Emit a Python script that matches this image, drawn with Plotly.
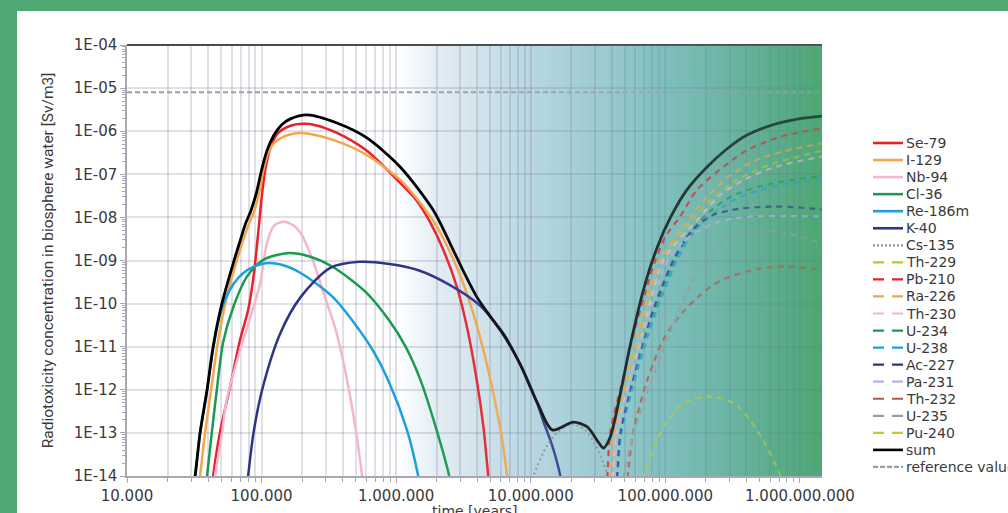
import numpy as np
import plotly.graph_objects as go

# ---------------- data (log10 time [years], log10 concentration [Sv/m3]) ----------------
se79_lt = [4.63, 4.64, 4.69, 4.766, 4.84, 4.90, 4.94, 4.975, 5.0, 5.03, 5.07, 5.12, 5.21, 5.31, 5.40, 5.56, 5.78, 6.03, 6.15, 6.25, 6.35, 6.45, 6.53, 6.60, 6.65, 6.684, 6.695]
se79_lc = [-14.3, -14.0, -13.0, -11.93, -10.84, -10.15, -9.38, -8.36, -7.55, -6.85, -6.35, -6.05, -5.88, -5.83, -5.86, -6.04, -6.45, -7.2, -7.6, -8.1, -8.75, -9.6, -10.6, -11.8, -12.9, -14.0, -14.3]

i129_lt = [4.53, 4.543, 4.58, 4.625, 4.67, 4.73, 4.81, 4.90, 4.94, 4.98, 5.01, 5.05, 5.085, 5.16, 5.29, 5.53, 5.78, 6.03, 6.15, 6.30, 6.45, 6.55, 6.65, 6.73, 6.785, 6.825, 6.84]
i129_lc = [-14.3, -14.0, -13.0, -12.0, -11.0, -10.0, -9.06, -8.2, -7.9, -7.45, -6.95, -6.5, -6.3, -6.13, -6.04, -6.2, -6.55, -7.13, -7.55, -8.2, -9.15, -10.0, -11.1, -12.2, -13.1, -14.0, -14.4]

nb94_lt = [4.645, 4.654, 4.706, 4.74, 4.84, 4.94, 4.99, 5.04, 5.09, 5.16, 5.23, 5.29, 5.38, 5.46, 5.55, 5.62, 5.70, 5.747, 5.76]
nb94_lc = [-14.3, -14.0, -13.0, -12.24, -11.08, -10.08, -9.52, -8.6, -8.2, -8.1, -8.17, -8.36, -8.99, -9.75, -10.6, -11.54, -12.93, -14.0, -14.3]

cl36_lt = [4.585, 4.595, 4.63, 4.67, 4.714, 4.79, 4.89, 5.01, 5.19, 5.35, 5.53, 5.78, 5.95, 6.07, 6.18, 6.30, 6.394, 6.41]
cl36_lc = [-14.3, -14.0, -13.0, -11.93, -10.9, -10.08, -9.38, -8.99, -8.83, -8.9, -9.15, -9.75, -10.4, -11.0, -11.77, -12.93, -14.0, -14.3]

re186m_lt = [4.49, 4.506, 4.543, 4.595, 4.64, 4.68, 4.73, 4.79, 4.86, 4.94, 5.04, 5.15, 5.29, 5.53, 5.70, 5.83, 5.94, 6.08, 6.164, 6.18]
re186m_lc = [-14.3, -14.0, -13.0, -12.0, -11.05, -10.4, -9.9, -9.55, -9.3, -9.15, -9.06, -9.1, -9.29, -9.85, -10.5, -11.1, -11.77, -12.93, -14.0, -14.3]

k40_lt = [4.89, 4.90, 4.94, 5.01, 5.14, 5.29, 5.51, 5.73, 5.95, 6.16, 6.40, 6.625, 6.773, 6.92, 7.05, 7.09, 7.16, 7.22, 7.235]
k40_lc = [-14.3, -14.0, -13.0, -11.93, -10.68, -9.85, -9.17, -9.03, -9.08, -9.22, -9.57, -10.05, -10.62, -11.4, -12.33, -12.7, -13.3, -14.0, -14.3]

cs135_lt = [7.0, 7.02, 7.12, 7.2, 7.3, 7.4, 7.48, 7.54, 7.57, 7.585]
cs135_lc = [-14.3, -14.0, -13.3, -12.98, -12.8, -12.92, -13.28, -13.7, -14.0, -14.3]

th229_lt = [7.595, 7.61, 7.635, 7.815, 7.975, 8.22, 8.35, 8.55, 8.8, 9.0, 9.165]
th229_lc = [-14.3, -14.0, -13.0, -10.69, -8.99, -7.98, -7.55, -7.1, -6.75, -6.58, -6.45]

pb210_lt = [7.555, 7.569, 7.59, 7.68, 7.765, 7.85, 7.926, 8.01, 8.11, 8.236, 8.434, 8.607, 8.855, 9.165]
pb210_lc = [-14.3, -14.0, -13.0, -11.8, -10.69, -9.75, -8.99, -8.4, -7.98, -7.36, -6.82, -6.44, -6.13, -5.93]

ra226_lt = [7.58, 7.595, 7.62, 7.80, 7.963, 8.19, 8.3, 8.45, 8.65, 8.9, 9.165]
ra226_lc = [-14.3, -14.0, -13.0, -10.69, -8.99, -7.98, -7.55, -7.1, -6.7, -6.45, -6.28]

th230_lt = [7.60, 7.61, 7.64, 7.83, 7.988, 8.26, 8.4, 8.6, 8.85, 9.165]
th230_lc = [-14.3, -14.0, -13.0, -10.69, -8.99, -7.98, -7.5, -7.1, -6.8, -6.59]

u234_lt = [7.62, 7.635, 7.665, 7.86, 8.07, 8.2, 8.335, 8.5, 8.7, 8.95, 9.165]
u234_lc = [-14.3, -14.0, -13.0, -10.69, -8.99, -8.3, -7.85, -7.5, -7.28, -7.13, -7.05]

u238_lt = [7.63, 7.645, 7.675, 7.876, 8.087, 8.22, 8.36, 8.52, 8.72, 8.95, 9.165]
u238_lc = [-14.3, -14.0, -13.0, -10.69, -8.99, -8.3, -7.9, -7.58, -7.35, -7.2, -7.12]

ac227_lt = [7.625, 7.64, 7.665, 7.85, 8.06, 8.2, 8.35, 8.55, 8.8, 9.0, 9.165]
ac227_lc = [-14.3, -14.0, -13.0, -10.69, -8.99, -8.3, -7.95, -7.8, -7.75, -7.77, -7.82]

pa231_lt = [7.61, 7.625, 7.65, 7.84, 8.02, 8.2, 8.4, 8.6, 8.9, 9.165]
pa231_lc = [-14.3, -14.0, -13.0, -10.69, -8.99, -8.4, -8.1, -7.99, -7.97, -7.98]

th232_lt = [7.70, 7.72, 7.76, 7.866, 8.0, 8.13, 8.26, 8.36, 8.459, 8.68, 8.905, 9.165]
th232_lc = [-14.3, -14.0, -13.0, -11.77, -10.75, -10.2, -9.8, -9.56, -9.4, -9.2, -9.14, -9.22]

u235_lt = [7.675, 7.69, 7.765, 7.889, 8.013, 8.137, 8.285, 8.459, 8.68, 8.905, 9.165]
u235_lc = [-14.3, -14.0, -13.0, -11.85, -10.84, -9.92, -8.99, -8.52, -8.29, -8.37, -8.6]

pu240_lt = [7.82, 7.84, 7.988, 8.137, 8.31, 8.508, 8.68, 8.855, 8.87]
pu240_lc = [-14.3, -14.0, -12.85, -12.31, -12.16, -12.31, -12.93, -14.0, -14.3]

sum_lt = [4.49, 4.506, 4.543, 4.595, 4.64, 4.706, 4.79, 4.84, 4.88, 4.92, 4.96, 5.0, 5.04, 5.09, 5.15, 5.21, 5.34, 5.56, 5.78, 6.03, 6.275, 6.40, 6.5, 6.6, 6.7, 6.8, 6.92, 7.05, 7.16, 7.316, 7.42, 7.49, 7.54, 7.59, 7.665, 7.74, 7.84, 7.94, 8.04, 8.16, 8.31, 8.45, 8.6, 8.8, 9.0, 9.165]
sum_lc = [-14.3, -14.0, -13.0, -12.0, -11.0, -9.99, -9.06, -8.55, -8.15, -7.85, -7.45, -6.9, -6.45, -6.1, -5.85, -5.72, -5.62, -5.81, -6.15, -6.83, -7.83, -8.6, -9.25, -9.85, -10.3, -10.72, -11.4, -12.31, -12.93, -12.75, -12.86, -13.16, -13.35, -13.1, -12.1, -10.95, -9.65, -8.69, -7.99, -7.36, -6.83, -6.43, -6.1, -5.85, -5.71, -5.65]

reference_value = 8e-6

x_tick_vals = [1e4, 1e5, 1e6, 1e7, 1e8, 1e9]
x_tick_text = ["10.000", "100.000", "1.000.000", "10.000.000", "100.000.000", "1.000.000.000"]
y_tick_vals = [1e-14, 1e-13, 1e-12, 1e-11, 1e-10, 1e-9, 1e-8, 1e-7, 1e-6, 1e-5, 1e-4]
y_tick_text = ["1E-14", "1E-13", "1E-12", "1E-11", "1E-10", "1E-09", "1E-08", "1E-07", "1E-06", "1E-05", "1E-04"]
x_title = "time [years]"
y_title = "Radiotoxicity concentration in biosphere water [Sv/m3]"

X_LO, X_HI = 4.0, 9.164
Y_LO, Y_HI = -14.0, -4.0

FONT = "DejaVu Sans, sans-serif"
TITLE_FONT = "Roboto, sans-serif"
TXT = "#3a3a3a"
GREEN = "#4fa874"
DASH = "6px,5px"

series = [
    ("Se-79", se79_lt, se79_lc, "#e8212b", "solid", 2.5),
    ("I-129", i129_lt, i129_lc, "#f5a54a", "solid", 2.5),
    ("Nb-94", nb94_lt, nb94_lc, "#f4b6cf", "solid", 2.5),
    ("Cl-36", cl36_lt, cl36_lc, "#1a9a50", "solid", 2.5),
    ("Re-186m", re186m_lt, re186m_lc, "#1ba0dc", "solid", 2.5),
    ("K-40", k40_lt, k40_lc, "#2e3386", "solid", 2.5),
    ("Cs-135", cs135_lt, cs135_lc, "#8e8e96", "2px,3px", 2),
    ("Th-229", th229_lt, th229_lc, "#b3c934", DASH, 2.2),
    ("Pb-210", pb210_lt, pb210_lc, "#e8212b", DASH, 2.2),
    ("Ra-226", ra226_lt, ra226_lc, "#f5a54a", DASH, 2.2),
    ("Th-230", th230_lt, th230_lc, "#f4b6cf", DASH, 2.2),
    ("U-234", u234_lt, u234_lc, "#1a9a50", DASH, 2.2),
    ("U-238", u238_lt, u238_lc, "#1ba0dc", DASH, 2.2),
    ("Ac-227", ac227_lt, ac227_lc, "#2e3386", DASH, 2.2),
    ("Pa-231", pa231_lt, pa231_lc, "#b4b4de", DASH, 2.2),
    ("Th-232", th232_lt, th232_lc, "#b5554a", DASH, 2.2),
    ("U-235", u235_lt, u235_lc, "#9a9aa0", DASH, 2.2),
    ("Pu-240", pu240_lt, pu240_lc, "#b8cc3c", DASH, 2.2),
    ("sum", sum_lt, sum_lc, "#000000", "solid", 2.8),
]
REF_STYLE = ("reference value", "#9aa0a8", "5px,2px", 2)

fig = go.Figure()
for name, lt, lc, color, dash, width in series:
    fig.add_trace(go.Scatter(
        x=10 ** np.array(lt), y=10 ** np.array(lc), name=name, mode="lines",
        line=dict(color=color, dash=dash, width=width, shape="spline", smoothing=0.8),
        hoverinfo="skip"))

fig.add_trace(go.Scatter(
    x=[10 ** X_LO, 10 ** X_HI], y=[reference_value, reference_value], name=REF_STYLE[0],
    mode="lines", line=dict(color=REF_STYLE[1], dash="5px,3px", width=2), hoverinfo="skip"))

# ---------------- geometry helpers ----------------
W, H = 1008, 513
ML, MR, MT, MB = 127, 186, 45, 37
pw, ph = W - ML - MR, H - MT - MB


def px2paper_x(px):
    return (px - ML) / pw


def py2paper_y(py):
    return (H - MB - py) / ph


def paper_x(lt):
    return (lt - X_LO) / (X_HI - X_LO)


# ---------------- background gradient (below) + fading overlay (above) ----------------
bg_lt = [6.0, 6.29, 6.625, 7.0, 7.46, 7.985, 8.47, 9.1, 9.2]
bg_r = [255, 228, 210, 185, 160, 128, 108, 80, 79]
bg_g = [255, 238, 228, 215, 205, 192, 180, 168, 168]
bg_b = [255, 244, 236, 225, 212, 190, 165, 120, 116]
ov_lt = [6.0, 6.6, 7.2, 8.0, 8.5, 9.2]
ov_a = [0.0, 0.07, 0.16, 0.28, 0.38, 0.48]

shapes = []
edges = np.linspace(5.9, X_HI, 140)
for i in range(len(edges) - 1):
    mid = 0.5 * (edges[i] + edges[i + 1])
    r = np.interp(mid, bg_lt, bg_r)
    g = np.interp(mid, bg_lt, bg_g)
    b = np.interp(mid, bg_lt, bg_b)
    a = np.interp(mid, ov_lt, ov_a)
    shapes.append(dict(type="rect", xref="paper", yref="paper", x0=paper_x(edges[i]), x1=1,
                       y0=0, y1=1, fillcolor=f"rgb({r:.0f},{g:.0f},{b:.0f})", line_width=0,
                       layer="below"))
    if a > 0.003:
        shapes.append(dict(type="rect", xref="paper", yref="paper", x0=paper_x(edges[i]),
                           x1=paper_x(edges[i + 1]), y0=0, y1=1,
                           fillcolor=f"rgba({r:.0f},{g:.0f},{b:.0f},{a:.3f})", line_width=0,
                           layer="above"))

# top border of plot area
shapes.append(dict(type="line", xref="paper", yref="paper", x0=0, x1=1, y0=1, y1=1,
                   line=dict(color="#111111", width=1.5), layer="between"))

# green frame (left and top strips)
shapes.append(dict(type="rect", xref="paper", yref="paper", x0=px2paper_x(-2), x1=px2paper_x(17),
                   y0=py2paper_y(H + 2), y1=py2paper_y(-2), fillcolor=GREEN, line_width=0, layer="above"))
shapes.append(dict(type="rect", xref="paper", yref="paper", x0=px2paper_x(-2), x1=px2paper_x(W + 2),
                   y0=py2paper_y(11), y1=py2paper_y(-2), fillcolor=GREEN, line_width=0, layer="above"))

# ---------------- legend (samples + real text labels, built from the series list) ----------------
annotations = []
legend_items = [(s[0], s[3], s[4], s[5]) for s in series] + [REF_STYLE]
LEG_TOP, LEG_STEP = 143, 17.05
for i, (name, color, dash, width) in enumerate(legend_items):
    ypx = LEG_TOP + i * LEG_STEP
    if dash == DASH:
        ldash = "11px,8px"
    elif dash.startswith("2px"):
        ldash = "2px,2px"
    else:
        ldash = dash
    shapes.append(dict(type="line", xref="paper", yref="paper",
                       x0=px2paper_x(873), x1=px2paper_x(903), y0=py2paper_y(ypx), y1=py2paper_y(ypx),
                       line=dict(color=color, dash=ldash, width=2.6 if width > 2.4 else 2.2),
                       layer="above"))
    annotations.append(dict(xref="paper", yref="paper", x=px2paper_x(904), y=py2paper_y(ypx),
                            xanchor="left", yanchor="middle", text=name, showarrow=False,
                            font=dict(family=FONT, size=14, color=TXT)))

# x-axis title (sits just under the tick labels, partly cut by the page edge as in the original)
annotations.append(dict(xref="paper", yref="paper", x=0.5, y=py2paper_y(511), xanchor="center",
                        yanchor="middle", text=x_title, showarrow=False,
                        font=dict(family=FONT, size=14, color=TXT)))

x_minor = [k * 10 ** d for d in range(4, 10) for k in range(2, 10)]
y_minor = [k * 10.0 ** d for d in range(-14, -4) for k in range(2, 10)]

GRID = "rgba(90,90,125,0.19)"
AXLINE = "#a8a8b2"

fig.update_layout(
    width=W, height=H,
    margin=dict(l=ML, r=MR, t=MT, b=MB, autoexpand=False),
    paper_bgcolor="white", plot_bgcolor="white",
    font=dict(family=FONT, size=14, color=TXT),
    shapes=shapes,
    annotations=annotations,
    showlegend=False,
    xaxis=dict(
        type="log", range=[X_LO, X_HI], tickmode="array", tickvals=x_tick_vals, ticktext=x_tick_text,
        showgrid=True, gridcolor=GRID, gridwidth=1.5, zeroline=False,
        showline=True, linecolor=AXLINE, linewidth=1.5,
        ticks="outside", ticklen=5, tickcolor=AXLINE,
        minor=dict(tickmode="array", tickvals=x_minor, showgrid=True, gridcolor=GRID, gridwidth=1.5,
                   ticks="outside", ticklen=4, tickcolor=AXLINE),
        tickfont=dict(family=FONT, size=15, color=TXT),
    ),
    yaxis=dict(
        type="log", range=[Y_LO, Y_HI], tickmode="array", tickvals=y_tick_vals, ticktext=y_tick_text,
        showgrid=True, gridcolor=GRID, gridwidth=1.5, zeroline=False,
        showline=True, linecolor=AXLINE, linewidth=1.5,
        ticks="outside", ticklen=5, tickcolor=AXLINE,
        minor=dict(tickmode="array", tickvals=y_minor, showgrid=False,
                   ticks="outside", ticklen=3, tickcolor=AXLINE),
        tickfont=dict(family=FONT, size=15, color=TXT),
        title=dict(text=y_title, font=dict(family=TITLE_FONT, size=15.5, color=TXT), standoff=16),
    ),
)

fig.write_html("out.html", config={"displayModeBar": False},
               post_script="document.body.style.margin='0px';document.body.style.overflow='hidden';")
